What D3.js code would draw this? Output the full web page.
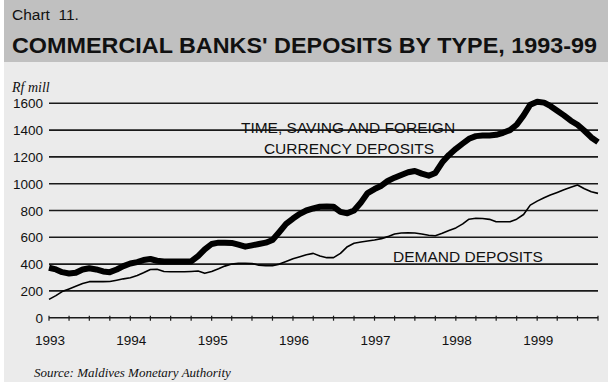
<!DOCTYPE html>
<html>
<head>
<meta charset="utf-8">
<script src="https://cdn.jsdelivr.net/npm/d3@7/dist/d3.min.js"></script>
<style>
  body { margin: 0; background: #fff; }
  svg { display: block; }
  text { font-family: "Liberation Sans", Arial, sans-serif; fill: #111; }
  .serif { font-family: "Liberation Serif", "Times New Roman", serif; font-style: italic; }
</style>
</head>
<body>
<svg id="chart"></svg>
<script>
// monthly figures, Jan 1993 - Oct 1999 (Rf million)
let timeSaving = [373, 360, 340, 330, 335, 360, 369, 360, 345, 340, 360, 385,
    405, 415, 430, 438, 425, 420, 420, 420, 420, 420, 460, 510,
    550, 560, 560, 558, 545, 530, 540, 550, 560, 580, 640, 700,
    740, 775, 800, 815, 828, 830, 828, 790, 779, 800, 860, 930,
    960, 985, 1020, 1045, 1065, 1085, 1095, 1075, 1060, 1080, 1160, 1215,
    1260, 1300, 1335, 1355, 1360, 1360, 1365, 1380, 1400, 1440, 1510, 1590,
    1612, 1605, 1580, 1545, 1510, 1470, 1440, 1395, 1345, 1310];
let demand = [137, 165, 195, 215, 235, 255, 269, 269, 269, 270, 280, 290,
    298, 315, 335, 360, 361, 345, 343, 343, 343, 345, 348, 331,
    345, 365, 385, 400, 406, 406, 405, 392, 388, 388, 400, 420,
    440, 455, 470, 480, 460, 448, 448, 480, 530, 555, 565, 572,
    580, 590, 605, 625, 632, 634, 632, 625, 615, 612, 630, 650,
    670, 700, 735, 742, 740, 734, 716, 716, 716, 735, 770, 840,
    870, 895, 915, 935, 955, 973, 990, 962, 940, 928];
let yTicks = [0, 200, 400, 600, 800, 1000, 1200, 1400, 1600];
let yearLabels = [1993, 1994, 1995, 1996, 1997, 1998, 1999];

let width = 608, height = 387;
let svg = d3.select("#chart").attr("width", width).attr("height", height);

// backgrounds
svg.append("rect").attr("x", 4).attr("y", 0).attr("width", width - 4).attr("height", 62).attr("fill", "#c0c0c0");
svg.append("rect").attr("x", 4).attr("y", 62).attr("width", width - 4).attr("height", 320).attr("fill", "#ebebeb");

svg.append("text").attr("x", 12).attr("y", 20).attr("font-size", 15.5).style("white-space", "pre").text("Chart  11.");
svg.append("text").attr("x", 12).attr("y", 53).attr("font-size", 22).attr("font-weight", "bold")
    .attr("textLength", 585).attr("lengthAdjust", "spacingAndGlyphs")
    .text("COMMERCIAL BANKS' DEPOSITS BY TYPE, 1993-99");

// scales
let months = timeSaving.map((d, i) => new Date(1993, i, 1));
let x = d3.scaleTime()
    .domain([new Date(1993, 0, 1), new Date(1999, 9, 1)])
    .range([49, 598]);
let y = d3.scaleLinear().domain([0, 1600]).range([317.7, 103.3]);

// gridlines
svg.append("g").selectAll("line").data(yTicks).enter().append("line")
    .attr("x1", 49).attr("x2", 598)
    .attr("y1", d => y(d)).attr("y2", d => y(d))
    .attr("stroke", "#1a1a1a").attr("stroke-width", 1.6);

svg.append("g").selectAll("text").data(yTicks).enter().append("text")
    .attr("x", 43).attr("y", d => y(d) + 5)
    .attr("text-anchor", "end").attr("font-size", 13.5)
    .text(d => d);

// quarter ticks on zero line
svg.append("g").selectAll("line").data(x.ticks(d3.timeMonth.every(3))).enter().append("line")
    .attr("x1", d => x(d)).attr("x2", d => x(d))
    .attr("y1", y(0) - 2).attr("y2", y(0) + 3)
    .attr("stroke", "#1a1a1a").attr("stroke-width", 1.2);

svg.append("g").selectAll("text").data(yearLabels).enter().append("text")
    .attr("x", d => x(new Date(d, 0, 1)) + 1).attr("y", 345)
    .attr("text-anchor", "middle").attr("font-size", 13.5)
    .text(d => d);

// lines
let line = d3.line().x((d, i) => x(months[i])).y(d => y(d));
svg.append("path").datum(demand).attr("d", line)
    .attr("fill", "none").attr("stroke", "#000").attr("stroke-width", 1.6).attr("stroke-linejoin", "round");
svg.append("path").datum(timeSaving).attr("d", line)
    .attr("fill", "none").attr("stroke", "#000").attr("stroke-width", 6).attr("stroke-linejoin", "round");

// labels
svg.append("text").attr("x", 348).attr("y", 133).attr("text-anchor", "middle").attr("font-size", 15.5)
    .text("TIME, SAVING AND FOREIGN");
svg.append("text").attr("x", 349).attr("y", 154).attr("text-anchor", "middle").attr("font-size", 15.5)
    .text("CURRENCY DEPOSITS");
svg.append("text").attr("x", 468).attr("y", 262).attr("text-anchor", "middle").attr("font-size", 15.5)
    .text("DEMAND DEPOSITS");

svg.append("text").attr("class", "serif").attr("x", 12).attr("y", 92).attr("font-size", 14).text("Rf mill");
svg.append("text").attr("class", "serif").attr("x", 34).attr("y", 377).attr("font-size", 13)
    .text("Source: Maldives Monetary Authority");
</script>
</body>
</html>
